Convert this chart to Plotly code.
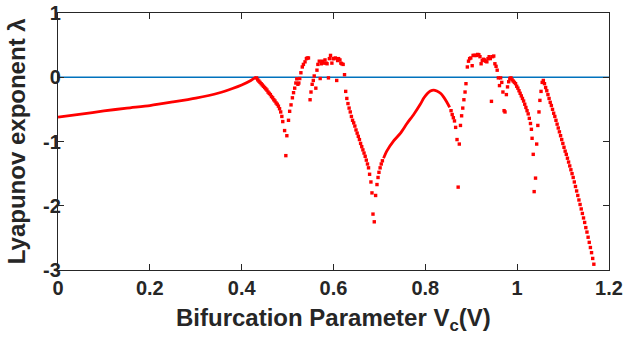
import plotly.graph_objects as go

# ---- data ----
# smooth branch 1 (periodic region, drawn as continuous thick trace)
smooth1_vc = [0.0, 0.05, 0.10, 0.15, 0.20, 0.25, 0.30, 0.35, 0.38, 0.40, 0.42, 0.431]
smooth1_lam = [-0.62, -0.575, -0.525, -0.48, -0.44, -0.385, -0.325, -0.245, -0.175, -0.12, -0.05, 0.0]

# smooth branch 2 (hump around Vc = 0.82)
smooth2_vc = [0.709, 0.716, 0.731, 0.746, 0.760, 0.775, 0.789, 0.797, 0.805, 0.811, 0.818,
              0.825, 0.833, 0.840, 0.847, 0.853]
smooth2_lam = [-1.26, -1.15, -0.99, -0.87, -0.72, -0.575, -0.42, -0.32, -0.25, -0.215, -0.20,
               -0.215, -0.25, -0.31, -0.39, -0.47]

# sampled points, first chaotic window (0.43 - 0.71)
win1_vc = [0.4325, 0.435, 0.4375, 0.440, 0.4425, 0.445, 0.4475, 0.450, 0.4525, 0.455, 0.4575,
           0.460, 0.4625, 0.465, 0.4675, 0.470, 0.4725, 0.475, 0.4775, 0.480, 0.4825, 0.485,
           0.4875, 0.4895, 0.4935, 0.4962, 0.4984, 0.502, 0.5045, 0.5075, 0.5105, 0.513, 0.5155,
           0.518, 0.520, 0.5225, 0.5245, 0.5265, 0.529, 0.532, 0.5345, 0.538, 0.541, 0.543,
           0.5455, 0.549, 0.551, 0.5535, 0.556, 0.558, 0.5615, 0.564, 0.566, 0.569, 0.571,
           0.5735, 0.576, 0.579, 0.5815, 0.584, 0.586, 0.589, 0.591, 0.5935, 0.5965, 0.599,
           0.601, 0.604, 0.607, 0.609, 0.611, 0.614, 0.616, 0.618, 0.621, 0.624, 0.6265, 0.629,
           0.6315, 0.634, 0.6365, 0.639, 0.6415, 0.644, 0.6465, 0.649, 0.6515, 0.654, 0.6565,
           0.659, 0.6615, 0.664, 0.6665, 0.669, 0.6715, 0.674, 0.6763, 0.6786, 0.6815, 0.6838,
           0.686, 0.6888, 0.6917, 0.6947, 0.697, 0.699, 0.7015, 0.704, 0.7065]
win1_lam = [-0.01, -0.04, -0.06, -0.08, -0.10, -0.12, -0.14, -0.16, -0.18, -0.20, -0.23,
            -0.25, -0.27, -0.30, -0.32, -0.35, -0.37, -0.40, -0.42, -0.45, -0.49, -0.54,
            -0.61, -0.69, -0.83, -1.22, -0.91, -0.67, -0.53, -0.43, -0.32, -0.24, -0.17,
            -0.09, -0.025, -0.11, -0.09, -0.02, 0.07, 0.16, 0.20, 0.24, 0.29, 0.30,
            0.30, -0.35, -0.23, -0.11, -0.05, 0.02, -0.17, 0.11, 0.20, 0.25, -0.02,
            0.21, 0.25, 0.22, 0.27, 0.22, 0.21, -0.01, 0.29, 0.34, 0.22, 0.29,
            0.29, 0.30, -0.05, 0.26, 0.29, 0.27, 0.22, 0.21, 0.20, 0.04, -0.22, -0.33,
            -0.41, -0.48, -0.54, -0.61, -0.67, -0.71, -0.76, -0.82, -0.87, -0.92, -0.97,
            -1.03, -1.08, -1.13, -1.18, -1.23, -1.29, -1.35, -1.41, -1.51, -1.63, -1.80,
            -2.13, -2.25, -1.84, -1.67, -1.56, -1.48, -1.41, -1.35, -1.30]

# sampled points, second chaotic window (0.85 - 1.17)
win2_vc = [0.856, 0.8585, 0.861, 0.8635, 0.866, 0.869, 0.8715, 0.874, 0.8765, 0.879, 0.8815,
           0.884, 0.8865, 0.8885, 0.8915, 0.894, 0.8965, 0.899, 0.902, 0.904, 0.9065, 0.909,
           0.9115, 0.914, 0.9165, 0.919, 0.9215, 0.924, 0.9265, 0.929, 0.9315, 0.934, 0.9365,
           0.939, 0.9415, 0.944, 0.9465, 0.949, 0.9515, 0.954, 0.9565, 0.959, 0.9615, 0.964,
           0.9665, 0.969, 0.9715, 0.9735, 0.9765, 0.979, 0.9815, 0.984, 0.9865, 0.989, 0.9915,
           0.994, 0.9965, 0.999, 1.0015, 1.004, 1.0065, 1.009, 1.0115, 1.014, 1.0165, 1.019,
           1.0215, 1.024, 1.0265, 1.029, 1.031, 1.0325, 1.035, 1.037, 1.040, 1.0425, 1.045,
           1.0475, 1.0495, 1.052, 1.0545, 1.057, 1.0595, 1.062, 1.0645, 1.067, 1.0695, 1.072,
           1.0745, 1.077, 1.0795, 1.082, 1.0845, 1.087, 1.0895, 1.092, 1.0945, 1.097, 1.0995,
           1.102, 1.1045, 1.107, 1.1095, 1.112, 1.1145, 1.117, 1.1195, 1.122, 1.1245, 1.127,
           1.1295, 1.132, 1.1345, 1.137, 1.1395, 1.142, 1.1445, 1.147, 1.1495, 1.152, 1.1545,
           1.157, 1.1595, 1.162, 1.1645, 1.167]
win2_lam = [-0.52, -0.58, -0.63, -0.68, -0.78, -0.97, -1.71, -1.04, -0.75, -0.60, -0.48,
            -0.35, -0.23, -0.10, 0.16, 0.25, 0.29, 0.30, 0.18, 0.34, 0.34, 0.34,
            0.34, 0.355, 0.35, 0.32, 0.21, 0.26, 0.28, 0.27, 0.25, 0.24, 0.29,
            0.32, 0.29, -0.375, 0.32, 0.33, 0.21, 0.17, 0.11, -0.01, -0.13, -0.01,
            -0.08, -0.23, -0.52, -0.54, -0.27, -0.15, -0.07, -0.02, -0.01, -0.04, -0.06,
            -0.08, -0.10, -0.14, -0.17, -0.21, -0.25, -0.29, -0.33, -0.37, -0.42, -0.47,
            -0.52, -0.57, -0.64, -0.72, -0.81, -0.95, -1.20, -1.78, -1.57, -1.04, -0.75,
            -0.54, -0.36, -0.22, -0.08, -0.05, -0.10, -0.16, -0.21, -0.27, -0.33, -0.39,
            -0.44, -0.50, -0.56, -0.61, -0.67, -0.73, -0.79, -0.85, -0.91, -0.97, -1.03,
            -1.09, -1.15, -1.20, -1.26, -1.32, -1.38, -1.44, -1.50, -1.56, -1.63, -1.70,
            -1.77, -1.84, -1.91, -1.98, -2.05, -2.12, -2.19, -2.26, -2.34, -2.41, -2.49,
            -2.57, -2.65, -2.73, -2.82, -2.91]

# zero reference line
zero_vc = [0.0, 1.2]
zero_lam = [0.0, 0.0]

x_ticks = [0, 0.2, 0.4, 0.6, 0.8, 1.0, 1.2]
x_tick_text = ["0", "0.2", "0.4", "0.6", "0.8", "1", "1.2"]
y_ticks = [-3, -2, -1, 0, 1]
y_tick_text = ["-3", "-2", "-1", "0", "1"]

RED = "#FF0000"
BLUE = "#0072BD"
AX = "#262626"
FONT = "Liberation Sans, Arial, sans-serif"

fig = go.Figure()
fig.add_trace(go.Scatter(x=zero_vc, y=zero_lam, mode="lines",
                         line=dict(color=BLUE, width=1.5), hoverinfo="skip"))
for xs, ys in [(smooth1_vc, smooth1_lam), (smooth2_vc, smooth2_lam)]:
    fig.add_trace(go.Scatter(x=xs, y=ys, mode="lines",
                             line=dict(color=RED, width=2.8, shape="spline", smoothing=0.6)))
for xs, ys in [(win1_vc, win1_lam), (win2_vc, win2_lam)]:
    fig.add_trace(go.Scatter(x=xs, y=ys, mode="markers",
                             marker=dict(color=RED, size=3.4, symbol="square",
                                         line=dict(width=0))))

axis_common = dict(
    showgrid=False, zeroline=False, showline=True, linecolor=AX, linewidth=1.2,
    mirror="ticks", ticks="inside", ticklen=6, tickwidth=1.2, tickcolor=AX,
    automargin=False,
    tickfont=dict(family=FONT, size=20, color=AX, weight="bold"),
)

fig.update_layout(
    width=626, height=339,
    margin=dict(l=58, r=17, t=13, b=69),
    paper_bgcolor="white", plot_bgcolor="white",
    showlegend=False,
    font=dict(family=FONT, color=AX),
    xaxis=dict(range=[0, 1.2], tickvals=x_ticks, ticktext=x_tick_text, **axis_common),
    yaxis=dict(range=[-3, 1], tickvals=y_ticks, ticktext=y_tick_text,
               ticklabelstandoff=-8, **axis_common),
    annotations=[
        dict(text="<b>Bifurcation Parameter V<sub>c</sub>(V)</b>", xref="paper", yref="paper",
             x=0.5, y=-0.126, xanchor="center", yanchor="top", showarrow=False,
             font=dict(family=FONT, size=24, color=AX)),
        dict(text="<b>Lyapunov exponent λ</b>", xref="paper", yref="paper",
             x=-0.075, y=0.5, xanchor="center", yanchor="middle", textangle=-90,
             showarrow=False, font=dict(family=FONT, size=24, color=AX)),
    ],
)

# remove the page's default body margin so the 626x339 figure fills the window
fig.write_html("out.html", config={"displayModeBar": False},
               post_script="document.body.style.margin='0';")
